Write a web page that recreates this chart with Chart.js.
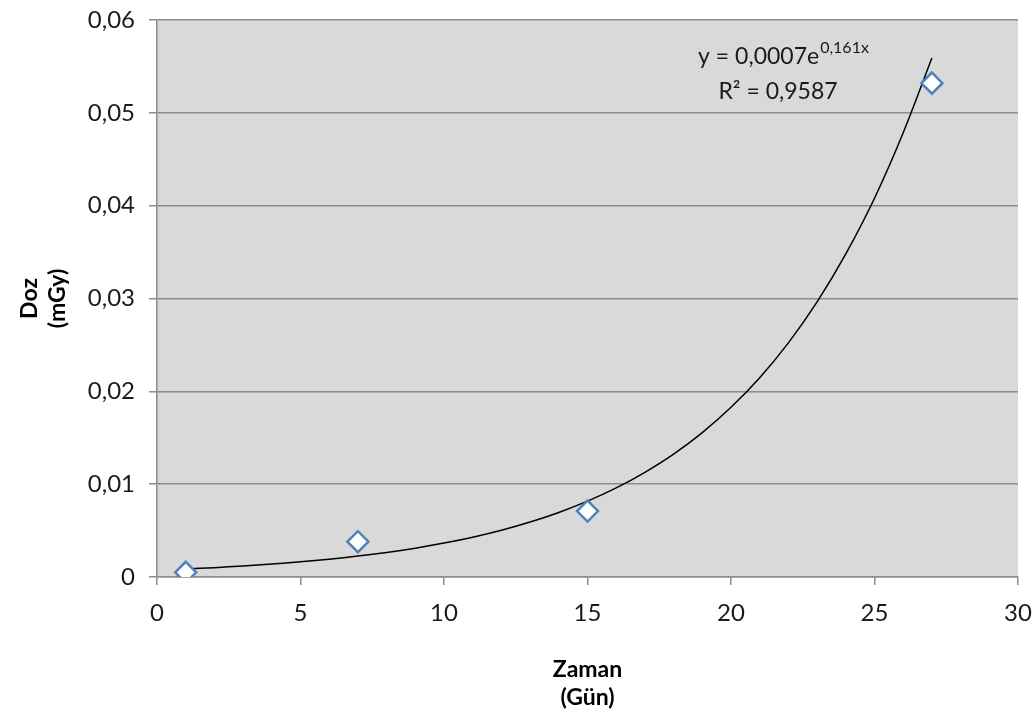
<!DOCTYPE html>
<html>
<head>
<meta charset="utf-8">
<script src="https://cdn.jsdelivr.net/npm/chart.js@4"></script>
<style>
  html, body { margin: 0; padding: 0; background: #fff; }
  #wrap { width: 1035px; height: 719px; }
</style>
</head>
<body>
<div id="wrap"><canvas id="c" width="1035" height="719"></canvas></div>
<script>
// measured points
const dayValues = [1, 7, 15, 27];
const doseValues = [0.0005, 0.0038, 0.0071, 0.0532];

// trendline (gridline crossings etc.)
const trendDays = [1, 2, 3, 4, 5, 6, 7, 8, 9, 10, 11, 12, 13, 14, 15, 16, 17, 18, 19, 20, 21, 22, 23, 24, 25, 26, 27];
const trendDoses = [
  0.000858, 0.001007, 0.001183, 0.001390, 0.001633, 0.001918, 0.002253, 0.002647, 0.003109,
  0.003652, 0.004291, 0.005040, 0.005921, 0.006955, 0.008170, 0.009598, 0.01128, 0.01324,
  0.01556, 0.01828, 0.02147, 0.02522, 0.02963, 0.03480, 0.04080, 0.04785, 0.05590
];

const yTicks = [0, 0.01, 0.02, 0.03, 0.04, 0.05, 0.06];
const xTicks = [0, 5, 10, 15, 20, 25, 30];

const equationText = ['y = 0,0007e', '0,161x'];
const rSquaredText = 'R² = 0,9587';

const FONT = 'Lato, "Open Sans", sans-serif';

function fmtComma(v) {
  if (Math.abs(v) < 1e-9) return '0';
  return v.toFixed(2).replace('.', ',');
}

const plotBackground = {
  id: 'plotBackground',
  beforeDraw(chart) {
    const { ctx, chartArea: a } = chart;
    ctx.save();
    ctx.fillStyle = '#d9d9d9';
    ctx.fillRect(a.left, a.top, a.right - a.left, a.bottom - a.top);
    ctx.restore();
  }
};

const trendLabel = {
  id: 'trendLabel',
  afterDatasetsDraw(chart) {
    const { ctx } = chart;
    ctx.save();
    ctx.fillStyle = '#1a1a1a';
    ctx.textBaseline = 'alphabetic';
    ctx.font = '23px ' + FONT;
    const mainW = ctx.measureText(equationText[0]).width;
    ctx.font = '16px ' + FONT;
    const supW = ctx.measureText(equationText[1]).width;
    const cx = 783;
    const x0 = cx - (mainW + supW) / 2;
    ctx.font = '23px ' + FONT;
    ctx.textAlign = 'left';
    ctx.fillText(equationText[0], x0, 64);
    ctx.font = '16px ' + FONT;
    ctx.fillText(equationText[1], x0 + mainW + 1, 53);
    ctx.font = '23px ' + FONT;
    ctx.textAlign = 'center';
    ctx.fillText(rSquaredText, 778, 99);
    ctx.restore();
  }
};

new Chart(document.getElementById('c'), {
  type: 'scatter',
  data: {
    datasets: [
      {
        label: 'Doz',
        data: dayValues.map((d, i) => ({ x: d, y: doseValues[i] })),
        pointStyle: 'rectRot',
        pointRadius: 10.5,
        pointBorderWidth: 2.5,
        pointBackgroundColor: '#ffffff',
        pointBorderColor: '#4f81bd',
        showLine: false,
        order: 0
      },
      {
        label: 'Trend',
        data: trendDays.map((d, i) => ({ x: d, y: trendDoses[i] })),
        showLine: true,
        borderColor: '#000000',
        borderWidth: 1.5,
        pointRadius: 0,
        tension: 0.3,
        order: 1
      }
    ]
  },
  options: {
    responsive: false,
    animation: false,
    layout: { padding: { left: 0, top: 20, right: 17, bottom: 0 } },
    plugins: {
      legend: { display: false },
      tooltip: { enabled: false }
    },
    scales: {
      x: {
        type: 'linear',
        min: 0,
        max: 30,
        afterBuildTicks(scale) { scale.ticks = xTicks.map(v => ({ value: v })); },
        afterFit(scale) {
          scale.height = 142;
          scale.paddingLeft = 0;
          scale.paddingRight = 0;
        },
        grid: { drawOnChartArea: false, drawTicks: true, tickLength: 8, color: '#8c8c8c', lineWidth: 1.5 },
        border: { display: true, color: '#8c8c8c', width: 1.5 },
        ticks: { color: '#1a1a1a', font: { family: FONT, size: 24 }, padding: 14, maxRotation: 0 },
        title: {
          display: true,
          text: ['Zaman', '(Gün)'],
          color: '#000',
          font: { family: FONT, size: 23, weight: 'bold' },
          padding: { top: 14, bottom: 8 }
        }
      },
      y: {
        type: 'linear',
        min: 0,
        max: 0.06,
        afterBuildTicks(scale) { scale.ticks = yTicks.map(v => ({ value: v })); },
        afterFit(scale) {
          scale.width = 157;
          scale.paddingTop = 0;
          scale.paddingBottom = 0;
        },
        grid: { color: '#8c8c8c', lineWidth: 1.5, tickLength: 8 },
        border: { display: true, color: '#8c8c8c', width: 1.5 },
        ticks: {
          color: '#1a1a1a',
          font: { family: FONT, size: 24 },
          padding: 14,
          callback: (v) => fmtComma(v)
        },
        title: {
          display: true,
          text: ['Doz', '(mGy)'],
          color: '#000',
          font: { family: FONT, size: 23, weight: 'bold' },
          padding: { top: 16, bottom: 0 }
        }
      }
    }
  },
  plugins: [plotBackground, trendLabel]
});
</script>
</body>
</html>
